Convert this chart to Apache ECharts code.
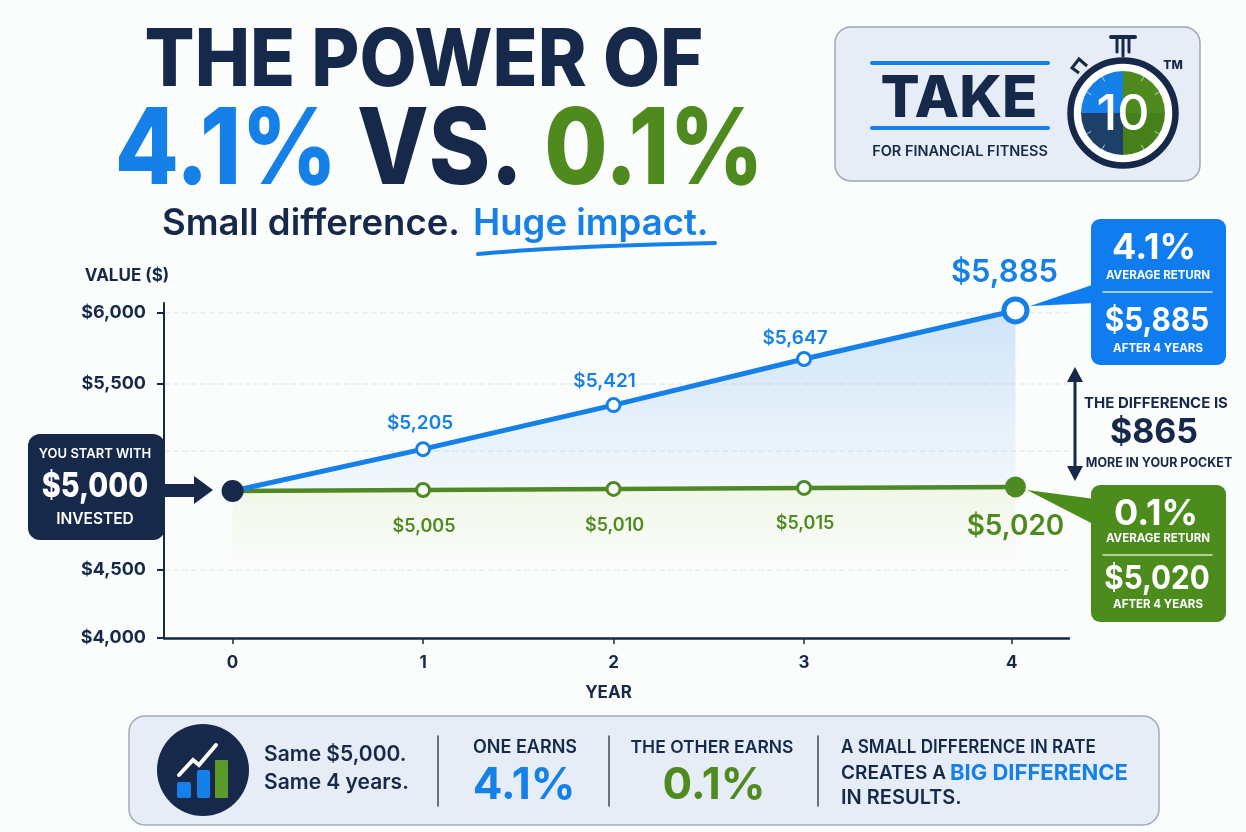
<!DOCTYPE html>
<html>
<head>
<meta charset="utf-8">
<title>The power of 4.1% vs. 0.1%</title>
<script src="https://cdn.jsdelivr.net/npm/echarts@6/dist/echarts.min.js"></script>
<style>
html, body { margin: 0; padding: 0; background: #fbfcfc; }
#main { width: 1246px; height: 832px; }
</style>
</head>
<body>
<div id="main"></div>
<script>
var myChart = echarts.init(document.getElementById("main"));

var years = [0, 1, 2, 3, 4];
var blueValues = [5000, 5205, 5421, 5647, 5885];
var greenValues = [5000, 5005, 5010, 5015, 5020];
var startValue = 5000;

// the picture does not space its axes evenly: year 4 sits late and the $ ticks
// are uneven, so ticks stay where the picture draws them on the series' scale
var yearAt = [0, 1, 2, 3, 4.11];
var yearTickAt = [0, 1, 2, 3, 4.09];
var yTickAt = [4279.4, 4612.7, 5196, 5524.5, 5872.5];
var yTickLabels = ['$4,000', '$4,500', '', '$5,500', '$6,000'];

var NAVY = '#16294a';
var BLUE = '#1580e8';
var GREEN = '#4f8a1f';
var FONT = 'Inter, "Noto Sans", sans-serif';

// small helpers for the annotations around the chart
function txt(text, x, y, size, fill, weight, align, sx) {
    return {
        type: 'text', z: 60,
        x: x, y: y, scaleX: sx || 1,
        style: {
            text: text, x: 0, y: 0, fill: fill, fontFamily: FONT, fontSize: size,
            fontWeight: weight || 700, textAlign: align || 'center', textVerticalAlign: 'middle'
        }
    };
}
function box(x, y, w, h, r, fill, stroke, z) {
    return {
        type: 'rect', z: z || 50,
        shape: { x: x, y: y, width: w, height: h, r: r },
        style: { fill: fill, stroke: stroke || null, lineWidth: stroke ? 1.5 : 0 }
    };
}
function poly(points, fill) {
    return { type: 'polygon', z: 50, shape: { points: points }, style: { fill: fill } };
}
function seg(x1, y1, x2, y2, color, width) {
    return {
        type: 'line', z: 55,
        shape: { x1: x1, y1: y1, x2: x2, y2: y2 },
        style: { stroke: color, lineWidth: width, lineCap: 'round' }
    };
}
function sector(a, b, fill) {
    return {
        type: 'sector', z: 52,
        shape: { cx: 1123, cy: 113, r: 42, r0: 0, startAngle: a, endAngle: b },
        style: { fill: fill }
    };
}
function ring(cx, cy, r, fill, stroke, width) {
    return {
        type: 'circle', z: 51,
        shape: { cx: cx, cy: cy, r: r },
        style: { fill: fill, stroke: stroke || null, lineWidth: width || 0 }
    };
}

var PI = Math.PI;
var elements = [
    // headline
    txt('THE POWER OF', 424, 62, 80, NAVY, 800, 'center', 0.925),
    txt('4.1%', 226, 152, 106, BLUE, 800, 'center', 0.88),
    txt('VS.', 440, 152, 106, NAVY, 800, 'center', 0.88),
    txt('0.1%', 654, 152, 106, GREEN, 800, 'center', 0.865),
    txt('Small difference.', 162, 224, 36.5, NAVY, 600, 'left'),
    txt('Huge impact.', 473, 224, 36.5, BLUE, 600, 'left'),
    {
        type: 'polyline', z: 55,
        shape: { points: [[478, 254], [530, 250], [610, 246], [715, 243]], smooth: 0.3 },
        style: { stroke: BLUE, lineWidth: 4, fill: null, lineCap: 'round' }
    },

    // logo
    box(835, 27, 365, 154, 16, '#e6edf7', '#9aa6b5'),
    seg(872, 63, 1048, 63, BLUE, 4),
    seg(872, 128, 1048, 128, BLUE, 4),
    txt('TAKE', 959, 100, 58, NAVY, 800),
    txt('FOR FINANCIAL FITNESS', 960, 152, 14.5, NAVY, 600),
    seg(1111, 37, 1135, 37, NAVY, 4),
    seg(1117, 38, 1117, 52, NAVY, 3),
    seg(1129, 38, 1129, 52, NAVY, 3),
    seg(1123, 38, 1123, 56, NAVY, 3),
    {
        type: 'polyline', z: 55,
        shape: { points: [[1087, 66], [1079, 59], [1072, 68], [1079, 73]] },
        style: { stroke: NAVY, lineWidth: 3, fill: null }
    },
    ring(1123, 113, 52.5, '#ffffff', NAVY, 6.5),
    sector(PI, 1.5 * PI, BLUE),
    sector(0.5 * PI, PI, '#1d4068'),
    sector(-0.5 * PI, 0, '#4f8a1f'),
    sector(0, 0.5 * PI, '#47801a'),
    txt('10', 1123, 115, 50, '#ffffff', 500),
    txt('TM', 1173, 65, 12, NAVY, 800),

    // start box and arrow
    box(28, 434, 137, 106, 12, NAVY),
    txt('YOU START WITH', 95, 454, 13, '#ffffff', 600),
    txt('$5,000', 95, 487, 34, '#ffffff', 800, 'center', 0.85),
    txt('INVESTED', 95, 519, 15.5, '#ffffff', 600),
    poly([[165, 484], [194, 484], [194, 476], [213, 490], [194, 504], [194, 497], [165, 497]], NAVY),

    // callouts at year 4
    poly([[1030, 306], [1095, 284], [1095, 303]], '#0f7df0'),
    box(1091, 219, 135, 146, 9, '#0f7df0'),
    txt('4.1%', 1154, 248, 36, '#ffffff', 700),
    txt('AVERAGE RETURN', 1158, 276, 11.5, '#ffffff', 700),
    seg(1103, 292, 1212, 292, '#cfe4fb', 1.5),
    txt('$5,885', 1157, 321, 33, '#ffffff', 700, 'center', 0.9),
    txt('AFTER 4 YEARS', 1158, 349, 11.5, '#ffffff', 700),

    poly([[1027, 490], [1095, 499], [1095, 525]], '#4c8c1d'),
    box(1091, 485, 135, 137, 9, '#4c8c1d'),
    txt('0.1%', 1156, 514, 36, '#ffffff', 700),
    txt('AVERAGE RETURN', 1158, 539, 11.5, '#ffffff', 700),
    seg(1103, 555, 1212, 555, '#d5e6bf', 1.5),
    txt('$5,020', 1157, 579, 33, '#ffffff', 700, 'center', 0.9),
    txt('AFTER 4 YEARS', 1158, 605, 11.5, '#ffffff', 700),

    // difference arrow
    seg(1075, 375, 1075, 472, NAVY, 3),
    poly([[1075, 367], [1083, 382], [1067, 382]], NAVY),
    poly([[1075, 481], [1083, 466], [1067, 466]], NAVY),
    txt('THE DIFFERENCE IS', 1156, 403, 15, NAVY, 700),
    txt('$865', 1154, 433, 34, NAVY, 700),
    txt('MORE IN YOUR POCKET', 1159, 463, 12.5, NAVY, 700),

    // bottom strip
    box(129, 716, 1030, 109, 16, '#e6edf7', '#a3abb6', 40),
    ring(203, 770, 46, NAVY),
    box(177, 782, 14, 16, 2, BLUE, null, 53),
    box(197, 770, 13, 28, 2, BLUE, null, 53),
    box(215, 760, 13, 38, 1, '#5c9a26', null, 53),
    {
        type: 'polyline', z: 55,
        shape: { points: [[179, 775], [193, 760], [199, 765], [216, 745]] },
        style: { stroke: '#ffffff', lineWidth: 4, fill: null, lineCap: 'round' }
    },
    poly([[220, 740], [218, 754], [206, 745]], '#ffffff'),
    txt('Same $5,000.', 264, 755, 21, NAVY, 600, 'left'),
    txt('Same 4 years.', 264, 783, 21, NAVY, 600, 'left'),
    seg(438, 736, 438, 806, '#3b4a60', 1.5),
    txt('ONE EARNS', 525, 748, 18, NAVY, 600),
    txt('4.1%', 524, 786, 44, BLUE, 700),
    seg(609, 736, 609, 806, '#3b4a60', 1.5),
    txt('THE OTHER EARNS', 712, 748, 17.5, NAVY, 600),
    txt('0.1%', 714, 786, 44, GREEN, 700),
    seg(818, 736, 818, 806, '#3b4a60', 1.5),
    txt('A SMALL DIFFERENCE IN RATE', 841, 747, 19, NAVY, 600, 'left', 0.9),
    txt('CREATES A', 841, 773, 19, NAVY, 600, 'left'),
    txt('BIG DIFFERENCE', 950, 773, 22, BLUE, 700, 'left'),
    txt('IN RESULTS.', 841, 798, 20, NAVY, 600, 'left')
];

// dial ticks
[1, 2, 4, 5, 7, 8, 10, 11].forEach(function(h) {
    var a = h * PI / 6;
    elements.push(seg(1123 + 37 * Math.sin(a), 113 - 37 * Math.cos(a),
        1123 + 41 * Math.sin(a), 113 - 41 * Math.cos(a), '#ffffffaa', 1));
});

function dollars(v) {
    return '$' + v.toLocaleString('en-US');
}

// label offsets per year, big last label like the picture
var blueLabelOffset = [[0, 0], [-3, 4], [-9, 6], [-9, 9], [-11, 4]];
var greenLabelOffset = [[0, 0], [1, 8], [1, 8], [1, 7], [0, 3]];

var blueData = blueValues.map(function(v, i) {
    var last = i === blueValues.length - 1;
    return {
        value: [yearAt[i], v],
        symbolSize: i === 0 ? 0 : (last ? 23 : 13),
        itemStyle: { color: '#fff', borderColor: BLUE, borderWidth: last ? 5 : 3 },
        label: {
            show: i > 0, position: 'top', distance: 12, offset: blueLabelOffset[i],
            formatter: dollars(v), color: BLUE, fontFamily: FONT,
            fontSize: last ? 31 : 19, fontWeight: 600
        }
    };
});
var greenData = greenValues.map(function(v, i) {
    var last = i === greenValues.length - 1;
    return {
        value: [yearAt[i], v],
        symbolSize: i === 0 ? 0 : (last ? 21 : 13),
        itemStyle: { color: last ? GREEN : '#fff', borderColor: GREEN, borderWidth: last ? 0 : 3 },
        label: {
            show: i > 0, position: 'bottom', distance: 12, offset: greenLabelOffset[i],
            formatter: dollars(v), color: GREEN, fontFamily: FONT,
            fontSize: last ? 28 : 18, fontWeight: 600
        }
    };
});

var option = {
    backgroundColor: '#fbfcfc',
    animation: false,
    grid: { left: 164, right: 177, top: 303, bottom: 194 },
    xAxis: {
        type: 'value',
        min: -0.36,
        max: 4.391,
        name: 'YEAR',
        nameLocation: 'middle',
        nameGap: 46,
        nameTextStyle: { color: NAVY, fontFamily: FONT, fontSize: 17, fontWeight: 700, padding: [0, 16, 0, 0] },
        axisLine: { onZero: false, lineStyle: { color: NAVY, width: 2.5 } },
        axisTick: { customValues: yearTickAt, length: 6, lineStyle: { color: NAVY, width: 1.5 } },
        axisLabel: {
            customValues: yearTickAt,
            margin: 16,
            color: NAVY, fontFamily: FONT, fontSize: 17, fontWeight: 700,
            formatter: function(v) { return String(years[yearTickAt.indexOf(v)]); }
        },
        splitLine: { show: false }
    },
    yAxis: {
        type: 'value',
        min: yTickAt[0],
        max: 5921.6,
        name: 'VALUE ($)',
        nameLocation: 'end',
        nameGap: 19,
        nameTextStyle: { color: NAVY, fontFamily: FONT, fontSize: 17, fontWeight: 700, align: 'center', padding: [0, 74, 0, 0] },
        axisLine: { onZero: false, lineStyle: { color: NAVY, width: 2 } },
        axisTick: { customValues: yTickAt, length: 7, lineStyle: { color: NAVY, width: 2 } },
        axisLabel: {
            customValues: yTickAt,
            margin: 18,
            color: NAVY, fontFamily: FONT, fontSize: 18, fontWeight: 700,
            formatter: function(v) { return yTickLabels[yTickAt.indexOf(v)]; }
        },
        splitLine: { show: true, lineStyle: { color: '#e8ebed', type: 'dashed', width: 1.5 } }
    },
    series: [{
        name: '0.1%',
        type: 'line',
        data: greenData,
        symbol: 'circle',
        z: 3,
        lineStyle: { color: GREEN, width: 4.5 },
        areaStyle: {
            origin: yTickAt[1],
            color: new echarts.graphic.LinearGradient(0, 0, 0, 1, [
                { offset: 0, color: 'rgba(170,210,90,0.18)' },
                { offset: 1, color: 'rgba(170,210,90,0)' }
            ])
        }
    }, {
        name: '4.1%',
        type: 'line',
        data: blueData,
        symbol: 'circle',
        z: 4,
        lineStyle: { color: BLUE, width: 5 },
        areaStyle: {
            origin: startValue,
            color: new echarts.graphic.LinearGradient(0, 0, 0, 1, [
                { offset: 0, color: 'rgba(21,128,232,0.27)' },
                { offset: 1, color: 'rgba(21,128,232,0.05)' }
            ])
        }
    }, {
        name: 'Start',
        type: 'scatter',
        data: [[years[0], startValue]],
        symbolSize: 22,
        itemStyle: { color: NAVY, opacity: 1 },
        z: 5
    }],
    graphic: { elements: elements }
};

myChart.setOption(option);
</script>
</body>
</html>
